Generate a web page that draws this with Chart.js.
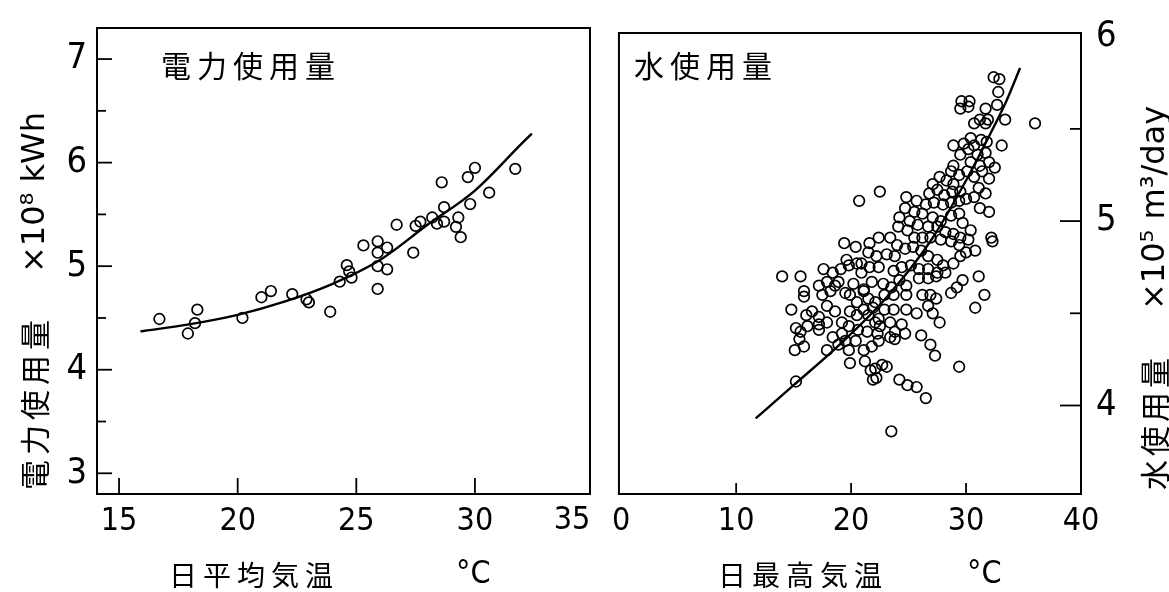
<!DOCTYPE html>
<html>
<head>
<meta charset="utf-8">
<script src="https://cdn.jsdelivr.net/npm/chart.js@4.4.1/dist/chart.umd.min.js"></script>
<style>
  html,body{margin:0;padding:0;background:#fff;}
  #wrap{position:relative;width:1169px;height:592px;overflow:hidden;background:#fff;}
  #elec{position:absolute;left:0;top:0;}
  #water{position:absolute;left:600px;top:0;}
</style>
</head>
<body>
<div id="wrap">
  <canvas id="elec" width="600" height="592"></canvas>
  <canvas id="water" width="569" height="592"></canvas>
</div>
<script>
/* ---- left panel: electricity vs daily mean temperature ---- */
const elecTemp = [16.7,18.3,18.2,17.9,20.2,21.0,21.4,22.3,22.9,23.0,23.9,24.3,24.6,24.7,24.8,25.3,25.9,25.9,25.9,26.3,
                  25.9,26.3,26.7,27.4,27.5,27.7,28.2,28.4,28.6,28.7,28.7,29.3,29.2,29.4,29.8,29.7,30.0,30.6,31.7];
const elecUse  = [4.49,4.58,4.45,4.35,4.50,4.70,4.76,4.73,4.68,4.65,4.56,4.85,5.01,4.95,4.89,5.20,4.78,5.24,5.13,5.18,
                  5.00,4.97,5.40,5.13,5.39,5.43,5.47,5.41,5.81,5.57,5.43,5.47,5.38,5.28,5.60,5.86,5.95,5.71,5.94];
const elecFitTemp = [15.9,18,20,22,24,26,28,30,32,32.4];
const elecFitUse  = [4.37,4.44,4.53,4.66,4.83,5.06,5.40,5.73,6.19,6.28];
const elecXTicks = [15,20,25,30];
const elecYTicks = [3,3.5,4,4.5,5,5.5,6,6.5,7];

/* ---- right panel: water vs daily max temperature ---- */
const waterTemp = [
  32.4,32.9,32.8,32.7,29.6,30.3,29.5,30.2,31.7,33.4,30.7,31.2,31.7,31.9,36.0,33.1,28.9,29.8,30.4,30.7,
  31.3,31.8,29.5,30.2,31.0,31.7,32.0,32.5,31.2,30.4,28.9,28.7,29.4,30.1,30.7,31.4,32.0,31.1,31.7,32.0,
  31.2,30.7,30.0,29.5,28.9,28.3,27.7,27.1,26.8,27.5,28.1,28.8,29.4,28.7,28.0,27.2,26.5,25.7,24.8,24.7,
  25.5,26.2,27.1,27.8,28.7,29.4,29.7,30.4,30.2,29.5,28.9,28.2,27.5,26.7,25.8,25.1,24.2,24.1,24.9,25.5,
  26.2,26.9,27.8,28.7,29.4,30.0,30.8,29.5,28.9,27.5,26.7,26.1,25.4,24.7,24.0,23.4,22.4,21.6,21.5,22.2,
  23.1,23.8,20.9,20.4,19.4,19.6,20.7,22.5,32.2,32.3,
  14.0,15.6,17.6,18.4,19.1,19.8,20.5,20.9,21.6,22.4,23.7,24.4,25.2,25.9,26.7,27.5,28.2,28.0,31.1,29.7,
  29.2,28.7,31.6,30.8,17.2,17.9,18.6,18.9,20.2,21.1,21.8,22.8,23.5,24.2,24.8,25.9,26.7,27.4,15.9,15.9,
  17.5,18.2,19.5,19.9,20.5,21.1,21.5,22.1,22.9,23.7,24.8,26.2,26.9,27.4,26.7,14.8,16.1,16.6,17.2,17.9,
  18.6,19.2,19.9,20.5,21.1,21.5,21.9,22.4,22.9,23.4,23.7,24.8,25.7,27.1,27.7,15.2,15.6,16.2,17.2,17.2,
  17.9,18.4,19.2,19.8,20.6,21.4,22.1,22.5,22.3,23.8,23.8,24.4,24.7,26.1,15.5,15.1,15.9,17.9,18.9,19.5,
  20.4,21.1,21.8,22.4,23.4,15.2,19.8,19.9,21.2,21.7,22.1,22.7,23.1,21.9,22.2,24.2,24.9,25.7,26.5,26.9,
  27.3,29.4,23.5];
const waterUse = [
  5.78,5.77,5.70,5.63,5.65,5.65,5.61,5.62,5.61,5.55,5.53,5.55,5.53,5.55,5.53,5.41,5.41,5.42,5.45,5.41,
  5.44,5.43,5.36,5.39,5.36,5.37,5.32,5.29,5.30,5.32,5.30,5.27,5.25,5.27,5.24,5.27,5.23,5.18,5.15,5.05,
  5.07,5.13,5.12,5.16,5.20,5.22,5.24,5.20,5.15,5.17,5.14,5.16,5.11,5.10,5.09,5.10,5.09,5.11,5.13,5.07,
  5.05,5.04,5.02,5.00,5.03,5.04,4.99,4.95,4.90,4.91,4.93,4.94,4.97,4.97,4.98,5.00,5.02,4.97,4.95,4.91,
  4.91,4.91,4.90,4.89,4.87,4.83,4.84,4.81,4.77,4.79,4.81,4.84,4.86,4.85,4.87,4.91,4.91,4.88,4.83,4.81,
  4.82,4.81,4.77,4.86,4.88,4.79,5.11,5.16,4.91,4.89,
  4.70,4.70,4.74,4.72,4.74,4.76,4.77,4.72,4.75,4.75,4.73,4.75,4.76,4.74,4.74,4.72,4.72,4.76,4.70,4.68,
  4.64,4.61,4.60,4.53,4.65,4.67,4.65,4.67,4.66,4.63,4.67,4.66,4.64,4.68,4.65,4.69,4.69,4.70,4.62,4.59,
  4.60,4.62,4.61,4.60,4.56,4.62,4.58,4.56,4.60,4.60,4.60,4.60,4.60,4.58,4.54,4.52,4.49,4.51,4.48,4.54,
  4.51,4.45,4.51,4.49,4.52,4.49,4.53,4.47,4.52,4.45,4.52,4.52,4.50,4.50,4.45,4.42,4.40,4.43,4.44,4.41,
  4.45,4.37,4.39,4.43,4.41,4.40,4.45,4.43,4.39,4.40,4.36,4.44,4.39,4.38,4.36,4.30,4.32,4.30,4.33,4.35,
  4.35,4.30,4.32,4.35,4.37,4.13,4.30,4.23,4.24,4.19,4.20,4.22,4.21,4.14,4.15,4.14,4.11,4.10,4.04,4.33,
  4.27,4.21,3.86];
const waterFitTemp = [11.7,15,19,23,27,30,32,33.5,34.7];
const waterFitUse  = [3.93,4.11,4.33,4.58,4.90,5.22,5.46,5.65,5.83];
const waterXTicks = [0,10,20,30,40];
const waterYTicks = [4,4.5,5,5.5,6];

/* ---- fonts ---- */
const numFamily = "'Liberation Sans Narrow','DejaVu Sans Condensed','Liberation Sans',sans-serif";
const jpFamily  = "'Noto Sans CJK JP','Noto Sans CJK SC',sans-serif";
const xFont = {family:numFamily, size:32, lineHeight:1};
const yFont = {family:numFamily, size:36, lineHeight:1};

const pts = (xs,ys) => xs.map((x,i)=>({x, y:ys[i]}));
const setTicks = arr => s => { s.ticks = arr.map(v=>({value:v})); };

/* frame, inward tick marks and extra texts */
const deco = {
  id:'deco',
  afterDraw(chart, args, o){
    const {ctx, chartArea:a, scales} = chart;
    ctx.save();
    ctx.strokeStyle = '#000';
    ctx.lineWidth = 2;
    ctx.strokeRect(a.left, a.top, a.right-a.left, a.bottom-a.top);

    ctx.lineWidth = 1.8;
    scales.x.ticks.forEach(t=>{
      const px = scales.x.getPixelForValue(t.value);
      if(px < a.left+4 || px > a.right-4) return;
      ctx.beginPath(); ctx.moveTo(px, a.bottom); ctx.lineTo(px, a.bottom-o.xLen); ctx.stroke();
    });
    scales.y.ticks.forEach(t=>{
      const py = scales.y.getPixelForValue(t.value);
      if(py < a.top+6 || py > a.bottom-4) return;
      const len = Number.isInteger(t.value) ? o.yMajor : o.yMinor;
      const x0 = o.ySide === 'left' ? a.left : a.right;
      const x1 = o.ySide === 'left' ? a.left+len : a.right-len;
      ctx.beginPath(); ctx.moveTo(x0, py); ctx.lineTo(x1, py); ctx.stroke();
    });

    ctx.fillStyle = '#000';
    ctx.textBaseline = 'middle';
    ctx.textAlign = 'left';
    (o.texts||[]).forEach(t=>{
      ctx.save();
      ctx.font = t.font;
      ctx.letterSpacing = (t.ls||0) + 'px';
      ctx.textAlign = t.align || 'left';
      ctx.translate(t.x, t.y);
      if(t.rot) ctx.rotate(t.rot);
      ctx.fillText(t.text, 0, 0);
      ctx.restore();
    });
    ctx.restore();
  }
};

const scatterSet = data => ({
  data, showLine:false, pointRadius:5.3, pointHoverRadius:5.3,
  pointBorderWidth:1.7, pointBorderColor:'#000', pointBackgroundColor:'rgba(0,0,0,0)'
});
const fitSet = data => ({
  data, showLine:true, pointRadius:0, borderColor:'#000', borderWidth:2.4,
  cubicInterpolationMode:'monotone', fill:false
});

const up = -Math.PI/2;

/* ---- left chart ---- */
new Chart(document.getElementById('elec'), {
  type:'scatter',
  data:{datasets:[ fitSet(pts(elecFitTemp, elecFitUse)), scatterSet(pts(elecTemp, elecUse)) ]},
  options:{
    responsive:false, animation:false, events:[],
    layout:{padding:{top:26, right:10, left:0, bottom:0}},
    plugins:{
      legend:{display:false}, tooltip:{enabled:false},
      deco:{
        ySide:'left', yMajor:15, yMinor:9, xLen:16,
        texts:[
          {text:'電力使用量', x:161, y:66, font:`30px ${jpFamily}`, ls:6},
          {text:'日平均気温', x:169, y:575, font:`28px ${jpFamily}`, ls:6},
          {text:'°C', x:456, y:575, font:`32px ${numFamily}`},
          {text:'35', x:572, y:521, font:`32px ${numFamily}`, align:'center'},
          {text:'電力使用量', x:35, y:490, rot:up, font:`30px ${jpFamily}`, ls:5},
          {text:'×10⁸ kWh', x:36, y:273, rot:up, font:`32px 'DejaVu Sans',sans-serif`}
        ]
      }
    },
    scales:{
      x:{type:'linear', min:14.07, max:34.85,
         afterBuildTicks:setTicks(elecXTicks),
         afterFit:s=>{ s.height = 98; },
         ticks:{font:xFont, color:'#000', padding:12, maxRotation:0, autoSkip:false},
         grid:{display:false, drawTicks:false}, border:{display:false}},
      y:{type:'linear', min:2.8, max:7.3,
         afterBuildTicks:setTicks(elecYTicks),
         afterFit:s=>{ s.width = 97; },
         ticks:{font:yFont, color:'#000', padding:10, autoSkip:false,
                callback:v=>Number.isInteger(v) ? String(v) : ''},
         grid:{display:false, drawTicks:false}, border:{display:false}}
    }
  },
  plugins:[deco]
});

/* ---- right chart ---- */
new Chart(document.getElementById('water'), {
  type:'scatter',
  data:{datasets:[ fitSet(pts(waterFitTemp, waterFitUse)), scatterSet(pts(waterTemp, waterUse)) ]},
  options:{
    responsive:false, animation:false, events:[],
    layout:{padding:{top:24, right:0, left:14, bottom:0}},
    plugins:{
      legend:{display:false}, tooltip:{enabled:false},
      deco:{
        ySide:'right', yMajor:21, yMinor:11, xLen:11,
        texts:[
          {text:'水使用量', x:34, y:66, font:`30px ${jpFamily}`, ls:6},
          {text:'日最高気温', x:118, y:575, font:`28px ${jpFamily}`, ls:6},
          {text:'°C', x:367, y:575, font:`32px ${numFamily}`},
          {text:'水使用量', x:555, y:490, rot:up, font:`30px ${jpFamily}`, ls:4},
          {text:'×10⁵ m³/day', x:556, y:310, rot:up, font:`32px 'DejaVu Sans',sans-serif`}
        ]
      }
    },
    scales:{
      x:{type:'linear', min:-0.2, max:40,
         afterBuildTicks:setTicks(waterXTicks),
         afterFit:s=>{ s.height = 98; },
         ticks:{font:xFont, color:'#000', padding:12, maxRotation:0, autoSkip:false},
         grid:{display:false, drawTicks:false}, border:{display:false}},
      y:{type:'linear', position:'right', min:3.52, max:6.02,
         afterBuildTicks:setTicks(waterYTicks),
         afterFit:s=>{ s.width = 88; },
         ticks:{font:yFont, color:'#000', padding:15, autoSkip:false,
                callback:v=>Number.isInteger(v) ? String(v) : ''},
         grid:{display:false, drawTicks:false}, border:{display:false}}
    }
  },
  plugins:[deco]
});
</script>
</body>
</html>
